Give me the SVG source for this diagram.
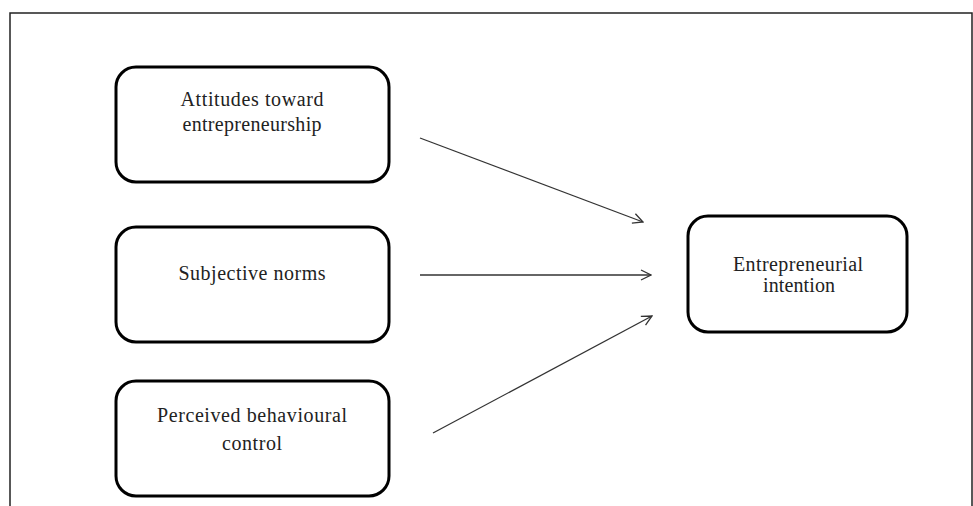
<svg xmlns="http://www.w3.org/2000/svg" width="973" height="506" viewBox="0 0 973 506">
<style>
.frame{fill:none;stroke:#222;stroke-width:1.5}
.box{fill:#fff;stroke:#000;stroke-width:3}
.lbl{font-family:"Liberation Serif","Times New Roman",serif;font-size:20px;fill:#222;text-anchor:middle}
.conn{stroke:#333;stroke-width:1.3;fill:none;marker-end:url(#arr)}
</style>
<defs>
<marker id="arr" viewBox="0 0 12 12" refX="11" refY="6" markerWidth="12" markerHeight="12" markerUnits="userSpaceOnUse" orient="auto">
<path d="M1,1 L11,6 L1,11" fill="none" stroke="#333" stroke-width="1.3"/>
</marker>
</defs>
<rect width="973" height="506" fill="#fff"/>
<path class="frame" d="M10,506 V13 H972 V506"/>
<g id="n1">
<rect class="box" x="116" y="67" width="273" height="115" rx="20"/>
<text class="lbl" x="252" y="106" textLength="143" lengthAdjust="spacing">Attitudes toward</text>
<text class="lbl" x="252" y="131" textLength="139" lengthAdjust="spacing">entrepreneurship</text>
</g>
<g id="n2">
<rect class="box" x="116" y="227" width="273" height="115" rx="20"/>
<text class="lbl" x="252" y="280" textLength="147" lengthAdjust="spacing">Subjective norms</text>
</g>
<g id="n3">
<rect class="box" x="116" y="381" width="273" height="115" rx="20"/>
<text class="lbl" x="252" y="422" textLength="190" lengthAdjust="spacing">Perceived behavioural</text>
<text class="lbl" x="252" y="450" textLength="60" lengthAdjust="spacing">control</text>
</g>
<g id="n4">
<rect class="box" x="688" y="216" width="219" height="116" rx="20"/>
<text class="lbl" x="798" y="271" textLength="130" lengthAdjust="spacing">Entrepreneurial</text>
<text class="lbl" x="799" y="292" textLength="72" lengthAdjust="spacing">intention</text>
</g>
<g id="connectors">
<line class="conn" x1="420" y1="138" x2="643" y2="222"/>
<line class="conn" x1="420" y1="275" x2="651" y2="275"/>
<line class="conn" x1="433" y1="433" x2="652" y2="316"/>
</g>
</svg>
